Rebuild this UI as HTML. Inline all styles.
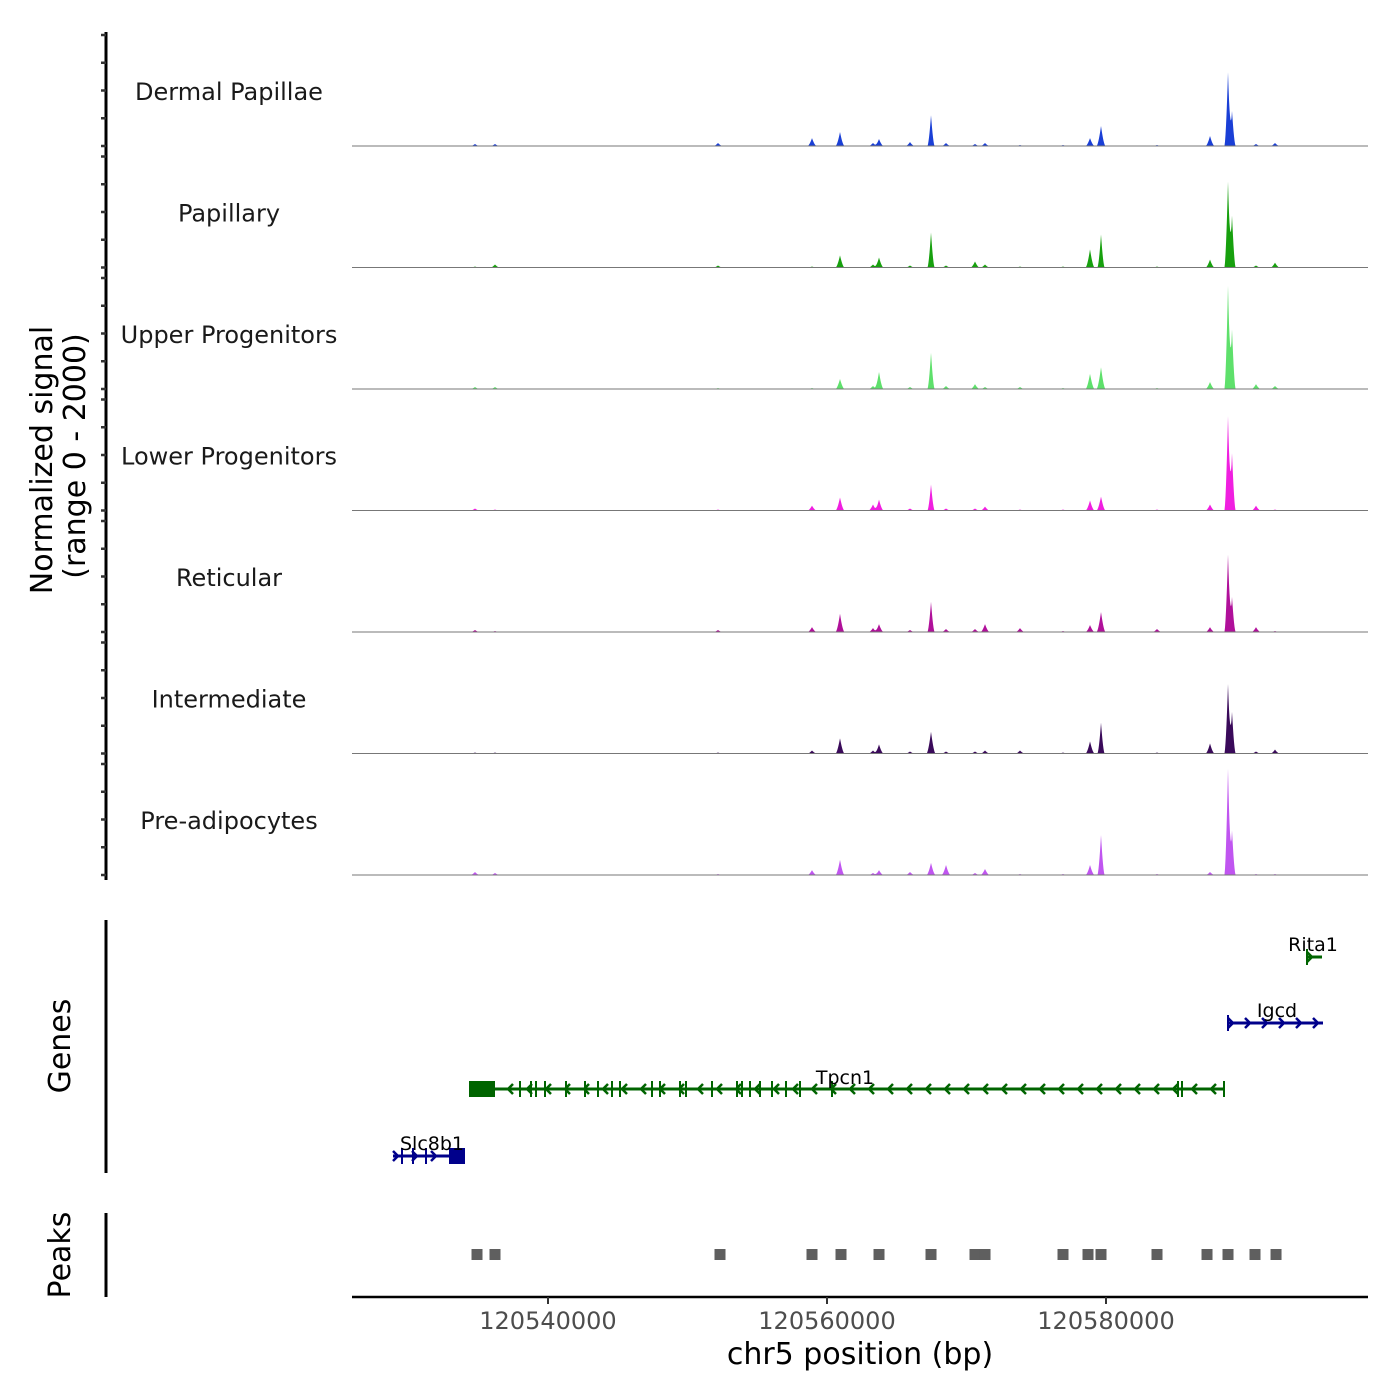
<!DOCTYPE html>
<html><head><meta charset="utf-8">
<style>
html,body{margin:0;padding:0;background:#fff;}
svg{display:block;font-family:"DejaVu Sans","Liberation Sans",sans-serif;}
</style></head>
<body>
<svg id="chart" width="1400" height="1400" viewBox="0 0 1400 1400" xmlns="http://www.w3.org/2000/svg">
<rect width="1400" height="1400" fill="#fff"/>
<g id="tracks"></g>
<line x1="106" y1="32" x2="106" y2="880" stroke="#000" stroke-width="3"/>
<g id="yticks"></g>
<text transform="translate(52,460) rotate(-90)" text-anchor="middle" font-size="30" fill="#000">Normalized signal</text>
<text transform="translate(85,456) rotate(-90)" text-anchor="middle" font-size="30" fill="#000">(range 0 - 2000)</text>
<line x1="106" y1="920" x2="106" y2="1173" stroke="#000" stroke-width="3"/>
<text transform="translate(70,1046) rotate(-90)" text-anchor="middle" font-size="30" fill="#000">Genes</text>
<g id="genes"></g>
<line x1="106" y1="1213" x2="106" y2="1297" stroke="#000" stroke-width="3"/>
<text transform="translate(70,1255) rotate(-90)" text-anchor="middle" font-size="30" fill="#000">Peaks</text>
<g id="peaks"></g>
<line x1="352" y1="1297" x2="1368" y2="1297" stroke="#000" stroke-width="2.5"/>
<g id="xticks"></g>
<text x="860" y="1364" text-anchor="middle" font-size="30" fill="#000">chr5 position (bp)</text>
</svg>
<script>
const NS="http://www.w3.org/2000/svg";
// ---- data ----
const cellTypes=["Dermal Papillae","Papillary","Upper Progenitors","Lower Progenitors","Reticular","Intermediate","Pre-adipocytes"];
const cellColors=["#1a3fd6","#17a00e","#5ee06b","#f01fe0","#b0109a","#3a0a5a","#c055f0"];
const peakPositions=[120534767,120536201,120552187,120558925,120560932,120563298,120563728,120565950,120567456,120568531,120570610,120571327,120573836,120576918,120578854,120579642,120583656,120587456,120588746,120589033,120590753,120592115];
const dpValues=[33,33,50,130,230,50,115,65,510,50,33,50,16,16,130,330,16,165,1220,580,33,50];
const papValues=[16,50,33,16,200,50,165,33,580,33,100,50,16,16,300,545,16,130,1420,860,33,80];
const upperValues=[33,33,16,16,165,50,280,33,600,50,80,33,33,16,250,360,16,115,1710,990,80,50];
const lowerValues=[33,16,16,80,215,100,180,33,430,33,33,65,16,16,165,230,16,100,1560,950,80,16];
const reticValues=[33,16,33,80,300,65,130,33,500,50,50,130,65,16,115,330,50,80,1280,580,80,16];
const interValues=[16,16,16,50,250,50,150,33,360,33,33,50,50,16,200,510,16,165,1150,690,33,65];
const preadValues=[50,33,16,80,250,33,80,50,200,165,33,100,16,16,165,660,16,50,1760,740,16,16];
const seriesValues=[dpValues,papValues,upperValues,lowerValues,reticValues,interValues,preadValues];
const xTicks=[120540000,120560000,120580000];
const peakRegions=[120534911,120536201,120552330,120558925,120561004,120563728,120567456,120570610,120571327,120576918,120578710,120579642,120583656,120587241,120588746,120590681,120592188];
// ---- scales ----
const X0=120525950,X1=120598781,PX0=352,PX1=1368;
const xs=v=>PX0+(v-X0)/(X1-X0)*(PX1-PX0);
const baseY0=146,trackH=121.5,MAXV=2000;
const ys=(v,i)=>baseY0+i*trackH-v/MAXV*trackH;
const tracks=document.getElementById('tracks');
seriesValues.forEach((vals,i)=>{
  const g=document.createElementNS(NS,'g');
  
  
  const base=baseY0+i*trackH;
  let d='M'+PX0+','+base;
  for(let px=PX0;px<=PX1;px+=0.5){
    const bp=X0+(px-PX0)/(PX1-PX0)*(X1-X0);
    let s=0;
    peakPositions.forEach((p,k)=>{const w=vals[k]>400?260:320;const t=1-Math.abs(bp-p)/w;if(t>0)s+=vals[k]*Math.pow(t,1.6);});
    d+='L'+px+','+ys(s,i).toFixed(2);
  }
  d+='L'+PX1+','+base+'Z';
  const path=document.createElementNS(NS,'path');
  path.setAttribute('d',d);path.setAttribute('fill',cellColors[i]);
  
  
  g.appendChild(path);
  const ln=document.createElementNS(NS,'line');
  ln.setAttribute('x1',PX0);ln.setAttribute('x2',PX1);ln.setAttribute('y1',base);ln.setAttribute('y2',base);
  ln.setAttribute('stroke','#777');ln.setAttribute('stroke-width','1');
  
  
  g.appendChild(ln);
  const tx=document.createElementNS(NS,'text');
  tx.setAttribute('x',229);tx.setAttribute('y',base-46);tx.setAttribute('text-anchor','middle');
  tx.setAttribute('font-size','24');tx.setAttribute('fill','#1a1a1a');
  
  
  tx.textContent=cellTypes[i];g.appendChild(tx);
  tracks.appendChild(g);
  const yt=document.getElementById('yticks');
  for(let k=0;k<5;k++){
    const t=document.createElementNS(NS,'line');
    const y=base-k*27.75;
    t.setAttribute('x1',101);t.setAttribute('x2',106);t.setAttribute('y1',y);t.setAttribute('y2',y);
    t.setAttribute('stroke','#333');t.setAttribute('stroke-width','2.5');
    
    
    yt.appendChild(t);
  }
});
const xt=document.getElementById('xticks');
xTicks.forEach(v=>{
  const t=document.createElementNS(NS,'line');
  t.setAttribute('x1',xs(v));t.setAttribute('x2',xs(v));t.setAttribute('y1',1297);t.setAttribute('y2',1304);
  t.setAttribute('stroke','#333');t.setAttribute('stroke-width','2');
  
  
  xt.appendChild(t);
  const l=document.createElementNS(NS,'text');
  l.setAttribute('x',xs(v));l.setAttribute('y',1329);l.setAttribute('text-anchor','middle');
  l.setAttribute('font-size','24');l.setAttribute('fill','#4d4d4d');
  
  
  l.textContent=v;xt.appendChild(l);
});
const pk=document.getElementById('peaks');
peakRegions.forEach(v=>{
  const r=document.createElementNS(NS,'rect');
  r.setAttribute('x',xs(v)-5.5);r.setAttribute('y',1249);r.setAttribute('width',11);r.setAttribute('height',11);
  r.setAttribute('fill','#5f5f5f');
  
  
  pk.appendChild(r);
});
const gg=document.getElementById('genes');
function add(tag,attrs,name){const e=document.createElementNS(NS,tag);for(const k in attrs)e.setAttribute(k,attrs[k]);
  
  
  gg.appendChild(e);return e;}
function gene(name,x1,x2,y,col,dir,block,exons,arrows,labelX,labelY){
  add('line',{x1:x1,x2:x2,y1:y,y2:y,stroke:col,'stroke-width':3},'gene-body');
  if(block)add('rect',{x:block[0],y:y-8,width:block[1]-block[0],height:16,fill:col},'gene-exon-block');
  exons.forEach(x=>add('line',{x1:x,x2:x,y1:y-8,y2:y+8,stroke:col,'stroke-width':2},'gene-exon'));
  arrows.forEach(x=>add('path',{d:dir<0?`M${x+5},${y-5}L${x},${y}L${x+5},${y+5}`:`M${x-5},${y-5}L${x},${y}L${x-5},${y+5}`,stroke:col,'stroke-width':2.5,fill:'none'},'gene-strand-arrow'));
  const t=add('text',{x:labelX,y:labelY,'text-anchor':'middle','font-size':19,fill:'#000'},'gene-label');t.textContent=name;
}
const tpArrows=[],tpEx=[];
for(let x=508;x<1215;x+=19)tpArrows.push(x);
[520,531,536,545,566,585,598,612,620,652,660,680,686,712,737,742,750,760,772,786,800,832,1178,1182,1224].forEach(x=>tpEx.push(x));
gene('Tpcn1',469,1224,1089,'#006400',-1,[469,495],tpEx,tpArrows,845,1084);
gene('Slc8b1',393,465,1156,'#00008b',1,[449,465],[402,413,426],[398,417,436],432,1150);
const igA=[];for(let x=1233;x<1325;x+=17)igA.push(x);
gene('Igcd',1228,1323,1023,'#00008b',1,null,[1228],igA,1277,1017);
gene('Rita1',1306,1322,957,'#006400',1,null,[1307],[1312],1313,951);
</script>
</body></html>
